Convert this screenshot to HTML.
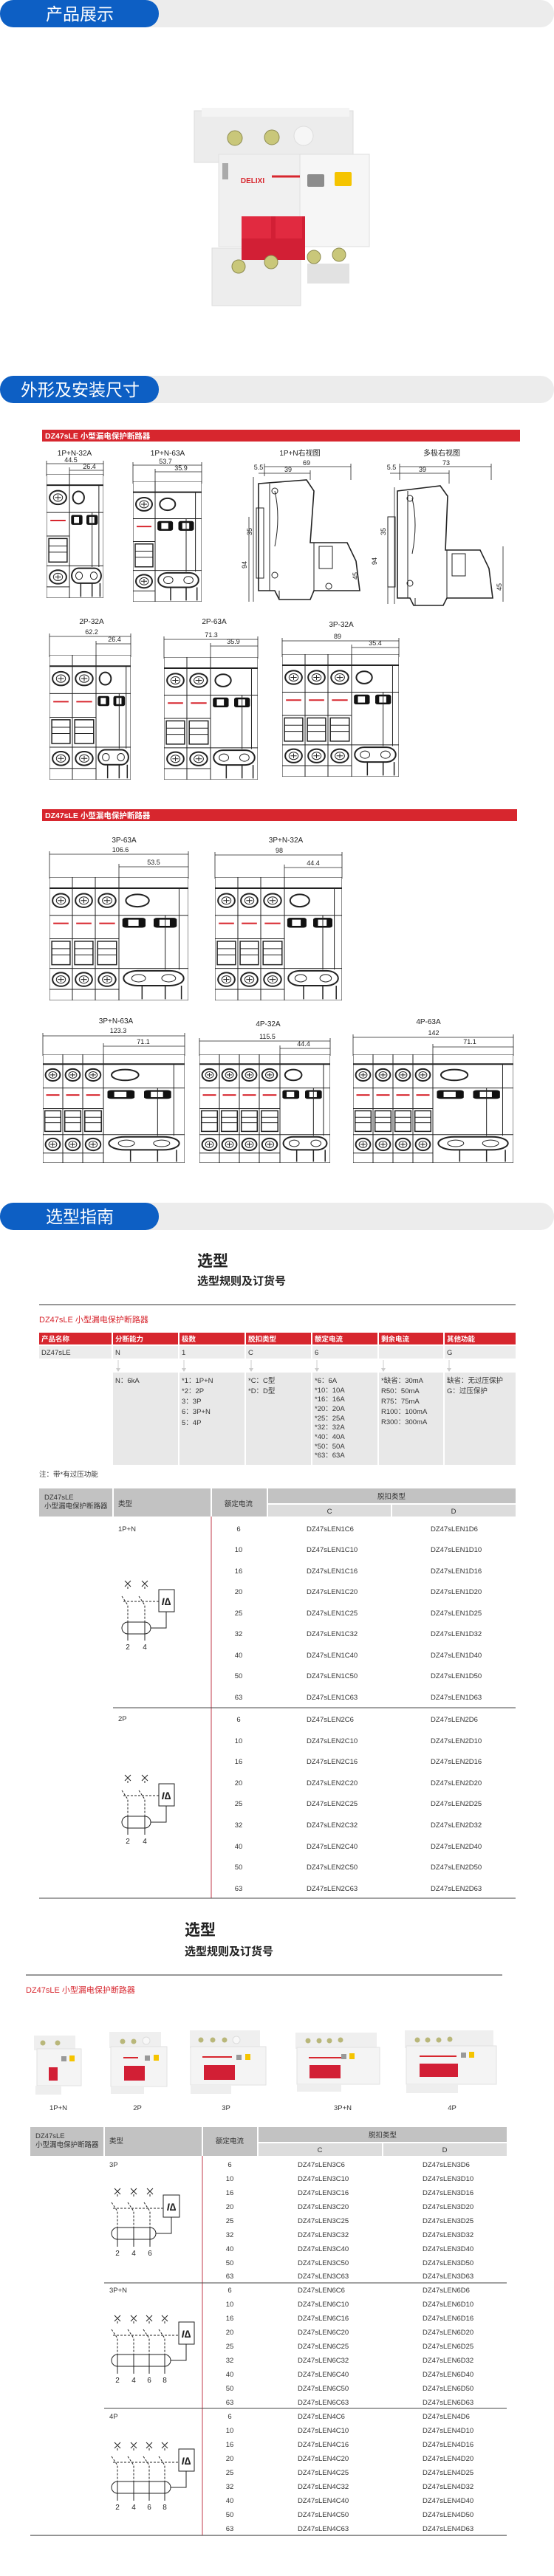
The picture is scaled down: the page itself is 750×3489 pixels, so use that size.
<!DOCTYPE html>
<html><head><meta charset="utf-8">
<style>
html,body{margin:0;padding:0;background:#fff;}
svg{display:block;}
text{font-family:"Liberation Sans","Noto Sans CJK SC",sans-serif;}
.ln *{vector-effect:non-scaling-stroke;}
.dim{stroke:#222;stroke-width:0.8;fill:none;}
.dt{font-size:9px;fill:#222;text-anchor:middle;font-family:"Liberation Sans Narrow","Liberation Sans",sans-serif;}
.lb{font-size:10px;fill:#222;text-anchor:middle;}
.td{font-size:9.5px;fill:#333;}
.tc{font-size:9.5px;fill:#333;text-anchor:middle;}
.op{font-size:9.5px;fill:#333;}
.sch{fill:none;stroke:#222;stroke-width:1;}
.dsh{fill:none;stroke:#222;stroke-width:1;stroke-dasharray:3 2;}
</style></head>
<body>
<svg width="750" height="3489" viewBox="0 0 750 3489" xmlns="http://www.w3.org/2000/svg">
<defs>
<symbol id="pole" viewBox="0 0 30 200" preserveAspectRatio="none" class="ln">
 <rect x="0" y="0" width="30" height="200" fill="#fff" stroke="#222" stroke-width="1"/>
 <line x1="0" y1="18" x2="30" y2="18" stroke="#222" stroke-width="2"/>
 <circle cx="15" cy="38" r="11" fill="none" stroke="#222" stroke-width="2"/>
 <circle cx="15" cy="38" r="6" fill="none" stroke="#222" stroke-width="1"/>
 <path d="M11 38H19M15 34V42" stroke="#222" stroke-width="1"/>
 <line x1="0" y1="62" x2="30" y2="62" stroke="#222" stroke-width="1"/>
 <line x1="5" y1="75" x2="25" y2="75" stroke="#d7262e" stroke-width="2"/>
 <line x1="0" y1="100" x2="30" y2="100" stroke="#222" stroke-width="1"/>
 <rect x="3" y="104" width="24" height="38" fill="none" stroke="#222" stroke-width="1.5"/>
 <path d="M3 116H27M3 126H27" stroke="#222" stroke-width="1"/>
 <line x1="0" y1="148" x2="30" y2="148" stroke="#222" stroke-width="1"/>
 <circle cx="15" cy="166" r="11" fill="none" stroke="#222" stroke-width="2"/>
 <circle cx="15" cy="166" r="6" fill="none" stroke="#222" stroke-width="1"/>
 <path d="M11 166H19M15 162V170" stroke="#222" stroke-width="1"/>
 <line x1="0" y1="182" x2="30" y2="182" stroke="#222" stroke-width="1"/>
</symbol>
<symbol id="rcd" viewBox="0 0 60 200" preserveAspectRatio="none" class="ln">
 <rect x="0" y="0" width="60" height="200" fill="#fff" stroke="#222" stroke-width="1"/>
 <line x1="0" y1="18" x2="60" y2="18" stroke="#222" stroke-width="2"/>
 <circle cx="16" cy="38" r="10" fill="none" stroke="#222" stroke-width="2"/>
 <line x1="0" y1="62" x2="60" y2="62" stroke="#222" stroke-width="1"/>
 <rect x="3" y="66" width="20" height="16" rx="3" fill="#111"/>
 <rect x="8" y="69" width="9" height="10" fill="#fff"/>
 <rect x="30" y="66" width="20" height="16" rx="3" fill="#111"/>
 <rect x="35" y="69" width="9" height="10" fill="#fff"/>
 <path d="M40 62V150M52 18V150" stroke="#222" stroke-width="1"/>
 <line x1="0" y1="148" x2="60" y2="148" stroke="#222" stroke-width="1"/>
 <rect x="4" y="152" width="52" height="24" rx="12" fill="none" stroke="#222" stroke-width="2"/>
 <circle cx="17" cy="164" r="6" fill="none" stroke="#222"/>
 <circle cx="43" cy="164" r="6" fill="none" stroke="#222"/>
 <path d="M20 176V198M40 176V198M54 176V198" stroke="#222" stroke-width="1.5"/>
</symbol>
</defs>

<!-- Header 1 -->
<rect x="0" y="0" width="750" height="37" rx="18" fill="#ececec"/>
<rect x="0" y="0" width="215" height="37" rx="18" fill="#0d5fc4"/>
<text x="62" y="27" font-size="23" fill="#fff">产品展示</text>

<!-- Main product photo -->
<g transform="translate(263,146)">
 <rect x="0" y="4" width="215" height="70" fill="#ececec" stroke="#ddd"/>
 <rect x="10" y="0" width="200" height="12" fill="#f4f4f4"/>
 <circle cx="55" cy="41" r="10" fill="#c9c77a" stroke="#8d8b50"/>
 <circle cx="105" cy="40" r="10" fill="#c9c77a" stroke="#8d8b50"/>
 <circle cx="148" cy="38" r="13" fill="#f6f6f6" stroke="#ddd"/>
 <rect x="24" y="190" width="120" height="78" fill="#ededed" stroke="#ddd"/>
 <rect x="33" y="63" width="204" height="125" fill="#f6f6f6" stroke="#ddd"/>
 <rect x="33" y="63" width="110" height="125" fill="#f0f0f0" stroke="#e0e0e0"/>
 <rect x="38" y="75" width="8" height="22" fill="#aaa"/>
 <line x1="105" y1="93" x2="143" y2="93" stroke="#d7262e" stroke-width="3"/>
 <text x="79" y="102" font-size="10" font-weight="bold" fill="#d7262e" text-anchor="middle">DELIXI</text>
 <rect x="153" y="90" width="23" height="17" rx="2" fill="#8c8c8c"/>
 <rect x="190" y="87" width="23" height="19" rx="2" fill="#f5c400"/>
 <rect x="64" y="147" width="86" height="59" fill="#d21f35"/>
 <rect x="64" y="147" width="40" height="30" fill="#e12a40"/>
 <rect x="110" y="147" width="36" height="30" fill="#e12a40"/>
 <rect x="153" y="211" width="57" height="27" fill="#e2e2e2"/>
 <circle cx="60" cy="215" r="9" fill="#c9c77a" stroke="#8d8b50"/>
 <circle cx="104" cy="209" r="9" fill="#c9c77a" stroke="#8d8b50"/>
 <circle cx="162" cy="202" r="9" fill="#c9c77a" stroke="#8d8b50"/>
 <circle cx="196" cy="199" r="9" fill="#c9c77a" stroke="#8d8b50"/>
</g>

<!-- Header 2 -->
<rect x="0" y="509" width="750" height="37" rx="18" fill="#ececec"/>
<rect x="0" y="509" width="215" height="37" rx="18" fill="#0d5fc4"/>
<text x="28" y="536" font-size="23" fill="#fff">外形及安装尺寸</text>

<!-- Red bar 1 -->
<rect x="57" y="582" width="647" height="16" fill="#d7262e"/>
<text x="61" y="594" font-size="10.5" font-weight="bold" fill="#fff">DZ47sLE 小型漏电保护断路器</text>

<!-- Row 1 drawings -->
<text class="lb" x="101" y="617">1P+N-32A</text>
<path class="dim" d="M63 628H140M63 624V645M140 624V645M94 637H140M94 633V645"/>
<text class="dt" x="96" y="626">44.5</text><text class="dt" x="121" y="635">26.4</text>
<use href="#pole" x="63" y="642" width="31" height="168"/>
<use href="#rcd" x="94" y="642" width="46" height="168"/>

<text class="lb" x="227" y="617">1P+N-63A</text>
<path class="dim" d="M180 630H273M180 626V655M273 626V655M210 639H273M210 635V655"/>
<text class="dt" x="224" y="628">53.7</text><text class="dt" x="245" y="637">35.9</text>
<use href="#pole" x="180" y="652" width="30" height="163"/>
<use href="#rcd" x="210" y="652" width="63" height="163"/>

<text class="lb" x="406" y="617">1P+N右视图</text>
<path class="dim" d="M358 632H475M358 628V645M475 628V650M358 641H420M420 637V650M350 641H358M343 646V815M337 700V815"/>
<text class="dt" x="415" y="630">69</text><text class="dt" x="390" y="639">39</text><text class="dt" x="350" y="636">5.5</text>
<text class="dt" x="334" y="765" transform="rotate(-90 334 765)">94</text>
<text class="dt" x="341" y="720" transform="rotate(-90 341 720)">35</text>
<text class="dt" x="484" y="780" transform="rotate(-90 484 780)">45</text>
<path fill="none" stroke="#222" stroke-width="1.6" d="M350 655L415 650L425 665L420 735L470 735L482 760L487 800L425 800L420 812L378 812L372 800L350 800Z"/>
<path fill="none" stroke="#222" stroke-width="1" d="M365 655V800M372 665Q380 700 372 740M425 735V800M432 740H450V770H432ZM378 800V812M445 790A4 4 0 1 0 445.1 790"/>
<rect x="347" y="688" width="10" height="95" fill="none" stroke="#222"/>
<circle cx="372" cy="665" r="4" fill="none" stroke="#222"/>
<circle cx="372" cy="779" r="4" fill="none" stroke="#222"/>

<text class="lb" x="598" y="617">多极右视图</text>
<path class="dim" d="M541 632H665M541 628V650M665 628V650M528 641H608M608 637V655M534 660V818M525 700V818M681 740V815"/>
<text class="dt" x="604" y="630">73</text><text class="dt" x="572" y="639">39</text><text class="dt" x="530" y="636">5.5</text>
<text class="dt" x="510" y="760" transform="rotate(-90 510 760)">94</text>
<text class="dt" x="522" y="720" transform="rotate(-90 522 720)">35</text>
<text class="dt" x="679" y="795" transform="rotate(-90 679 795)">45</text>
<path fill="none" stroke="#222" stroke-width="1.6" d="M538 665L596 658L606 672L603 745L650 745L662 770L667 810L605 810L600 820L560 820L555 810L538 810Z"/>
<path fill="none" stroke="#222" stroke-width="1" d="M552 665V810M558 675Q566 710 558 750M605 745V810M612 750H630V780H612ZM562 810V820"/>
<rect x="525" y="700" width="10" height="95" fill="none" stroke="#222"/>
<circle cx="555" cy="675" r="4" fill="none" stroke="#222"/>
<circle cx="555" cy="790" r="4" fill="none" stroke="#222"/>

<!-- Row 2 -->
<text class="lb" x="124" y="845">2P-32A</text>
<path class="dim" d="M67 862H177M67 858V890M177 858V890M130 872H177M130 868V890"/>
<text class="dt" x="124" y="859">62.2</text><text class="dt" x="155" y="869">26.4</text>
<use href="#pole" x="67" y="887" width="31" height="169"/>
<use href="#pole" x="98" y="887" width="32" height="169"/>
<use href="#rcd" x="130" y="887" width="47" height="169"/>

<text class="lb" x="290" y="845">2P-63A</text>
<path class="dim" d="M222 866H349M222 862V892M349 862V892M285 875H349M285 871V892"/>
<text class="dt" x="286" y="863">71.3</text><text class="dt" x="316" y="872">35.9</text>
<use href="#pole" x="222" y="890" width="31" height="166"/>
<use href="#pole" x="253" y="890" width="32" height="166"/>
<use href="#rcd" x="285" y="890" width="64" height="166"/>

<text class="lb" x="462" y="849">3P-32A</text>
<path class="dim" d="M382 868H540M382 864V890M540 864V890M476 877H540M476 873V890"/>
<text class="dt" x="457" y="865">89</text><text class="dt" x="508" y="874">35.4</text>
<use href="#pole" x="382" y="886" width="31" height="166"/>
<use href="#pole" x="413" y="886" width="31" height="166"/>
<use href="#pole" x="444" y="886" width="32" height="166"/>
<use href="#rcd" x="476" y="886" width="64" height="166"/>

<!-- Red bar 2 -->
<rect x="57" y="1096" width="643" height="16" fill="#d7262e"/>
<text x="61" y="1108" font-size="10.5" font-weight="bold" fill="#fff">DZ47sLE 小型漏电保护断路器</text>

<!-- Row 3 -->
<text class="lb" x="168" y="1141">3P-63A</text>
<path class="dim" d="M67 1157H255M67 1153V1190M255 1153V1190M161 1174H255M161 1170V1190"/>
<text class="dt" x="163" y="1154">106.6</text><text class="dt" x="208" y="1171">53.5</text>
<use href="#pole" x="67" y="1188" width="31" height="167"/>
<use href="#pole" x="98" y="1188" width="31" height="167"/>
<use href="#pole" x="129" y="1188" width="32" height="167"/>
<use href="#rcd" x="161" y="1188" width="94" height="167"/>

<text class="lb" x="387" y="1141">3P+N-32A</text>
<path class="dim" d="M291 1158H463M291 1154V1190M463 1154V1190M385 1175H463M385 1171V1190"/>
<text class="dt" x="378" y="1155">98</text><text class="dt" x="424" y="1172">44.4</text>
<use href="#pole" x="291" y="1188" width="31" height="167"/>
<use href="#pole" x="322" y="1188" width="31" height="167"/>
<use href="#pole" x="353" y="1188" width="32" height="167"/>
<use href="#rcd" x="385" y="1188" width="78" height="167"/>

<!-- Row 4 -->
<text class="lb" x="157" y="1386">3P+N-63A</text>
<path class="dim" d="M58 1403H250M58 1399V1430M250 1399V1430M140 1417H250M140 1413V1430"/>
<text class="dt" x="160" y="1399">123.3</text><text class="dt" x="194" y="1414">71.1</text>
<use href="#pole" x="58" y="1428" width="27" height="147"/>
<use href="#pole" x="85" y="1428" width="27" height="147"/>
<use href="#pole" x="112" y="1428" width="28" height="147"/>
<use href="#rcd" x="140" y="1428" width="110" height="147"/>

<text class="lb" x="363" y="1390">4P-32A</text>
<path class="dim" d="M270 1410H447M270 1406V1430M447 1406V1430M379 1420H447M379 1416V1430"/>
<text class="dt" x="362" y="1407">115.5</text><text class="dt" x="411" y="1417">44.4</text>
<use href="#pole" x="270" y="1428" width="27" height="147"/>
<use href="#pole" x="297" y="1428" width="27" height="147"/>
<use href="#pole" x="324" y="1428" width="27" height="147"/>
<use href="#pole" x="351" y="1428" width="28" height="147"/>
<use href="#rcd" x="379" y="1428" width="68" height="147"/>

<text class="lb" x="580" y="1387">4P-63A</text>
<path class="dim" d="M478 1405H695M478 1401V1430M695 1401V1430M586 1418H695M586 1414V1430"/>
<text class="dt" x="587" y="1402">142</text><text class="dt" x="636" y="1414">71.1</text>
<use href="#pole" x="478" y="1428" width="27" height="147"/>
<use href="#pole" x="505" y="1428" width="27" height="147"/>
<use href="#pole" x="532" y="1428" width="27" height="147"/>
<use href="#pole" x="559" y="1428" width="27" height="147"/>
<use href="#rcd" x="586" y="1428" width="109" height="147"/>

<!-- Header 3 -->
<rect x="0" y="1629" width="750" height="37" rx="18" fill="#ececec"/>
<rect x="0" y="1629" width="215" height="37" rx="18" fill="#0d5fc4"/>
<text x="62" y="1656" font-size="23" fill="#fff">选型指南</text>

<text x="267" y="1715" font-size="21" font-weight="bold" fill="#222">选型</text>
<text x="267" y="1740" font-size="15" font-weight="bold" fill="#222">选型规则及订货号</text>
<line x1="53" y1="1767" x2="698" y2="1767" stroke="#777" stroke-width="1.5"/>
<text x="53" y="1791" font-size="11" fill="#d7262e">DZ47sLE 小型漏电保护断路器</text>

<!-- Rule table -->
<g>
 <rect x="53" y="1805" width="98" height="16" fill="#d7262e"/>
 <rect x="153" y="1805" width="88" height="16" fill="#d7262e"/>
 <rect x="243" y="1805" width="88" height="16" fill="#d7262e"/>
 <rect x="333" y="1805" width="88" height="16" fill="#d7262e"/>
 <rect x="423" y="1805" width="88" height="16" fill="#d7262e"/>
 <rect x="513" y="1805" width="87" height="16" fill="#d7262e"/>
 <rect x="602" y="1805" width="96" height="16" fill="#d7262e"/>
 <g font-size="9.5" fill="#fff" font-weight="bold">
 <text x="56" y="1817">产品名称</text><text x="156" y="1817">分断能力</text><text x="246" y="1817">极数</text><text x="336" y="1817">脱扣类型</text><text x="426" y="1817">额定电流</text><text x="516" y="1817">剩余电流</text><text x="605" y="1817">其他功能</text>
 </g>
 <g fill="#ececec">
 <rect x="53" y="1823" width="98" height="17"/><rect x="153" y="1823" width="88" height="17"/><rect x="243" y="1823" width="88" height="17"/><rect x="333" y="1823" width="88" height="17"/><rect x="423" y="1823" width="88" height="17"/><rect x="513" y="1823" width="87" height="17"/><rect x="602" y="1823" width="96" height="17"/>
 </g>
 <g class="op"><text x="56" y="1835">DZ47sLE</text><text x="156" y="1835">N</text><text x="246" y="1835">1</text><text x="336" y="1835">C</text><text x="426" y="1835">6</text><text x="605" y="1835">G</text></g>
 <g stroke="#ccc" stroke-width="1" fill="#ccc">
  <path d="M160 1842V1855M249 1842V1855M340 1842V1855M429 1842V1855M519 1842V1855M608 1842V1855"/>
 </g>
 <g fill="#ccc"><path d="M157 1853L160 1858L163 1853ZM246 1853L249 1858L252 1853ZM337 1853L340 1858L343 1853ZM426 1853L429 1858L432 1853ZM516 1853L519 1858L522 1853ZM605 1853L608 1858L611 1853Z"/></g>
 <g fill="#e8e8e8">
 <rect x="153" y="1859" width="88" height="125"/><rect x="243" y="1859" width="88" height="125"/><rect x="333" y="1859" width="88" height="125"/><rect x="423" y="1859" width="88" height="125"/><rect x="513" y="1859" width="87" height="125"/><rect x="602" y="1859" width="96" height="125"/>
 </g>
 <g class="op">
  <text x="156" y="1873">N：6kA</text>
  <text x="246" y="1873">*1：1P+N</text><text x="246" y="1887">*2：2P</text><text x="246" y="1901">3：3P</text><text x="246" y="1915">6：3P+N</text><text x="246" y="1930">5：4P</text>
  <text x="336" y="1873">*C：C型</text><text x="336" y="1887">*D：D型</text>
  <text x="426" y="1873">*6：6A</text><text x="426" y="1886">*10：10A</text><text x="426" y="1898">*16：16A</text><text x="426" y="1911">*20：20A</text><text x="426" y="1924">*25：25A</text><text x="426" y="1936">*32：32A</text><text x="426" y="1949">*40：40A</text><text x="426" y="1962">*50：50A</text><text x="426" y="1974">*63：63A</text>
  <text x="516" y="1873">*缺省：30mA</text><text x="516" y="1887">R50：50mA</text><text x="516" y="1901">R75：75mA</text><text x="516" y="1915">R100：100mA</text><text x="516" y="1929">R300：300mA</text>
  <text x="605" y="1873">缺省：无过压保护</text><text x="605" y="1887">G：过压保护</text>
 </g>
 <text x="53" y="2000" font-size="9.5" fill="#333">注：带*有过压功能</text>
</g>

<!-- Table 1 -->
<rect x="53" y="2016" width="99" height="38" fill="#c2c2c2"/>
<rect x="154" y="2016" width="131" height="38" fill="#c2c2c2"/>
<rect x="287" y="2016" width="74" height="38" fill="#c2c2c2"/>
<rect x="363" y="2016" width="335" height="20" fill="#c2c2c2"/>
<rect x="363" y="2038" width="166" height="16" fill="#dcdcdc"/>
<rect x="531" y="2038" width="167" height="16" fill="#dcdcdc"/>
<text class="td" x="60" y="2031">DZ47sLE</text><text class="td" x="60" y="2043">小型漏电保护断路器</text>
<text class="td" x="160" y="2040">类型</text><text class="tc" x="323" y="2040">额定电流</text>
<text class="tc" x="530" y="2030">脱扣类型</text><text class="tc" x="446" y="2050">C</text><text class="tc" x="614" y="2050">D</text>
<line x1="286" y1="2054" x2="286" y2="2571" stroke="#c0394a" stroke-width="1"/>
<line x1="153" y1="2313" x2="698" y2="2313" stroke="#444" stroke-width="1"/>
<line x1="53" y1="2571" x2="698" y2="2571" stroke="#444" stroke-width="1"/>
<text class="td" x="160" y="2074">1P+N</text><text class="td" x="160" y="2331">2P</text>
<g>
<text class="tc" x="323" y="2074">6</text><text class="td" x="415" y="2074">DZ47sLEN1C6</text><text class="td" x="583" y="2074">DZ47sLEN1D6</text>
<text class="tc" x="323" y="2102">10</text><text class="td" x="415" y="2102">DZ47sLEN1C10</text><text class="td" x="583" y="2102">DZ47sLEN1D10</text>
<text class="tc" x="323" y="2131">16</text><text class="td" x="415" y="2131">DZ47sLEN1C16</text><text class="td" x="583" y="2131">DZ47sLEN1D16</text>
<text class="tc" x="323" y="2159">20</text><text class="td" x="415" y="2159">DZ47sLEN1C20</text><text class="td" x="583" y="2159">DZ47sLEN1D20</text>
<text class="tc" x="323" y="2188">25</text><text class="td" x="415" y="2188">DZ47sLEN1C25</text><text class="td" x="583" y="2188">DZ47sLEN1D25</text>
<text class="tc" x="323" y="2216">32</text><text class="td" x="415" y="2216">DZ47sLEN1C32</text><text class="td" x="583" y="2216">DZ47sLEN1D32</text>
<text class="tc" x="323" y="2245">40</text><text class="td" x="415" y="2245">DZ47sLEN1C40</text><text class="td" x="583" y="2245">DZ47sLEN1D40</text>
<text class="tc" x="323" y="2273">50</text><text class="td" x="415" y="2273">DZ47sLEN1C50</text><text class="td" x="583" y="2273">DZ47sLEN1D50</text>
<text class="tc" x="323" y="2302">63</text><text class="td" x="415" y="2302">DZ47sLEN1C63</text><text class="td" x="583" y="2302">DZ47sLEN1D63</text>
<text class="tc" x="323" y="2332">6</text><text class="td" x="415" y="2332">DZ47sLEN2C6</text><text class="td" x="583" y="2332">DZ47sLEN2D6</text>
<text class="tc" x="323" y="2361">10</text><text class="td" x="415" y="2361">DZ47sLEN2C10</text><text class="td" x="583" y="2361">DZ47sLEN2D10</text>
<text class="tc" x="323" y="2389">16</text><text class="td" x="415" y="2389">DZ47sLEN2C16</text><text class="td" x="583" y="2389">DZ47sLEN2D16</text>
<text class="tc" x="323" y="2418">20</text><text class="td" x="415" y="2418">DZ47sLEN2C20</text><text class="td" x="583" y="2418">DZ47sLEN2D20</text>
<text class="tc" x="323" y="2446">25</text><text class="td" x="415" y="2446">DZ47sLEN2C25</text><text class="td" x="583" y="2446">DZ47sLEN2D25</text>
<text class="tc" x="323" y="2475">32</text><text class="td" x="415" y="2475">DZ47sLEN2C32</text><text class="td" x="583" y="2475">DZ47sLEN2D32</text>
<text class="tc" x="323" y="2504">40</text><text class="td" x="415" y="2504">DZ47sLEN2C40</text><text class="td" x="583" y="2504">DZ47sLEN2D40</text>
<text class="tc" x="323" y="2532">50</text><text class="td" x="415" y="2532">DZ47sLEN2C50</text><text class="td" x="583" y="2532">DZ47sLEN2D50</text>
<text class="tc" x="323" y="2561">63</text><text class="td" x="415" y="2561">DZ47sLEN2C63</text><text class="td" x="583" y="2561">DZ47sLEN2D63</text>
</g>

<!-- schematic 2 poles (1P+N) -->
<g transform="translate(173,2140)">
 <path class="sch" d="M-4 1L4 9M4 1L-4 9M19 1L27 9M27 1L19 9"/>
 <path class="dsh" d="M0 9V14M23 9V14M-8 22L0 34V57M15 22L23 34V57M-6 29H42"/>
 <rect class="sch" x="42" y="13" width="21" height="30"/>
 <text x="52" y="34" font-size="14" font-style="italic" font-weight="bold" text-anchor="middle" fill="#222">I∆</text>
 <path class="sch" d="M52 43V65H31M0 57V82M23 57V82"/>
 <rect class="sch" x="-8" y="57" width="39" height="16" rx="8"/>
 <text x="0" y="94" font-size="10" text-anchor="middle" fill="#222">2</text><text x="23" y="94" font-size="10" text-anchor="middle" fill="#222">4</text>
</g>
<g transform="translate(173,2403)">
 <path class="sch" d="M-4 1L4 9M4 1L-4 9M19 1L27 9M27 1L19 9"/>
 <path class="dsh" d="M0 9V14M23 9V14M-8 22L0 34V57M15 22L23 34V57M-6 29H42"/>
 <rect class="sch" x="42" y="13" width="21" height="30"/>
 <text x="52" y="34" font-size="14" font-style="italic" font-weight="bold" text-anchor="middle" fill="#222">I∆</text>
 <path class="sch" d="M52 43V65H31M0 57V82M23 57V82"/>
 <rect class="sch" x="-8" y="57" width="39" height="16" rx="8"/>
 <text x="0" y="94" font-size="10" text-anchor="middle" fill="#222">2</text><text x="23" y="94" font-size="10" text-anchor="middle" fill="#222">4</text>
</g>

<!-- Second 选型 -->
<text x="250" y="2621" font-size="21" font-weight="bold" fill="#222">选型</text>
<text x="250" y="2648" font-size="15" font-weight="bold" fill="#222">选型规则及订货号</text>
<line x1="35" y1="2675" x2="680" y2="2675" stroke="#777" stroke-width="1.5"/>
<text x="35" y="2699" font-size="11" fill="#d7262e">DZ47sLE 小型漏电保护断路器</text>

<!-- small photos -->
<g>
 <!-- 1P+N -->
 <rect x="46" y="2757" width="56" height="20" fill="#efefef"/>
 <circle cx="58" cy="2767" r="3.5" fill="#b9b77a"/><circle cx="78" cy="2767" r="3.5" fill="#b9b77a"/>
 <rect x="50" y="2775" width="60" height="50" fill="#f4f4f4" stroke="#e2e2e2"/>
 <rect x="83" y="2785" width="7" height="7" fill="#999"/><rect x="94" y="2784" width="7" height="8" fill="#f5c400"/>
 <rect x="66" y="2800" width="12" height="18" fill="#d21f35"/>
 <rect x="48" y="2825" width="35" height="12" fill="#eee"/>
 <!-- 2P -->
 <rect x="148" y="2752" width="70" height="22" fill="#efefef"/>
 <circle cx="166" cy="2765" r="3.5" fill="#b9b77a"/><circle cx="181" cy="2765" r="3.5" fill="#b9b77a"/><circle cx="198" cy="2764" r="5" fill="#f8f8f8" stroke="#ddd"/>
 <rect x="150" y="2772" width="76" height="54" fill="#f4f4f4" stroke="#e2e2e2"/>
 <rect x="167" y="2786" width="20" height="2" fill="#d7262e"/>
 <rect x="196" y="2784" width="7" height="7" fill="#999"/><rect x="208" y="2783" width="7" height="8" fill="#f5c400"/>
 <rect x="168" y="2798" width="28" height="20" fill="#d21f35"/>
 <rect x="150" y="2826" width="45" height="10" fill="#eee"/>
 <!-- 3P -->
 <rect x="257" y="2750" width="95" height="24" fill="#efefef"/>
 <circle cx="272" cy="2763" r="3.5" fill="#b9b77a"/><circle cx="288" cy="2763" r="3.5" fill="#b9b77a"/><circle cx="304" cy="2763" r="3.5" fill="#b9b77a"/><circle cx="320" cy="2763" r="5" fill="#f8f8f8" stroke="#ddd"/>
 <rect x="258" y="2772" width="102" height="52" fill="#f4f4f4" stroke="#e2e2e2"/>
 <rect x="274" y="2785" width="40" height="2" fill="#d7262e"/>
 <rect x="320" y="2783" width="7" height="7" fill="#999"/><rect x="332" y="2782" width="7" height="8" fill="#f5c400"/>
 <rect x="276" y="2797" width="42" height="20" fill="#d21f35"/>
 <rect x="258" y="2824" width="55" height="12" fill="#eee"/>
 <!-- 3P+N -->
 <rect x="400" y="2753" width="110" height="22" fill="#efefef"/>
 <circle cx="417" cy="2764" r="3.5" fill="#b9b77a"/><circle cx="432" cy="2764" r="3.5" fill="#b9b77a"/><circle cx="446" cy="2764" r="3.5" fill="#b9b77a"/><circle cx="461" cy="2763" r="3.5" fill="#b9b77a"/>
 <rect x="402" y="2773" width="112" height="50" fill="#f4f4f4" stroke="#e2e2e2"/>
 <rect x="418" y="2786" width="44" height="2" fill="#d7262e"/>
 <rect x="462" y="2782" width="7" height="7" fill="#999"/><rect x="473" y="2781" width="7" height="8" fill="#f5c400"/>
 <rect x="419" y="2797" width="42" height="18" fill="#d21f35"/>
 <rect x="402" y="2823" width="60" height="10" fill="#eee"/>
 <!-- 4P -->
 <rect x="548" y="2750" width="120" height="24" fill="#efefef"/>
 <circle cx="565" cy="2763" r="3.5" fill="#b9b77a"/><circle cx="579" cy="2763" r="3.5" fill="#b9b77a"/><circle cx="594" cy="2763" r="3.5" fill="#b9b77a"/><circle cx="609" cy="2762" r="3.5" fill="#b9b77a"/>
 <rect x="550" y="2771" width="122" height="52" fill="#f4f4f4" stroke="#e2e2e2"/>
 <rect x="568" y="2784" width="50" height="2" fill="#d7262e"/>
 <rect x="624" y="2780" width="7" height="7" fill="#999"/><rect x="635" y="2779" width="7" height="8" fill="#f5c400"/>
 <rect x="568" y="2795" width="52" height="18" fill="#d21f35"/>
 <rect x="550" y="2823" width="70" height="12" fill="#eee"/>
 <g font-size="9.5" fill="#333" text-anchor="middle">
  <text x="79" y="2858">1P+N</text><text x="186" y="2858">2P</text><text x="306" y="2858">3P</text><text x="464" y="2858">3P+N</text><text x="612" y="2858">4P</text>
 </g>
</g>

<!-- Table 2 -->
<rect x="41" y="2881" width="99" height="39" fill="#c2c2c2"/>
<rect x="142" y="2881" width="131" height="39" fill="#c2c2c2"/>
<rect x="275" y="2881" width="73" height="39" fill="#c2c2c2"/>
<rect x="350" y="2881" width="336" height="20" fill="#c2c2c2"/>
<rect x="350" y="2903" width="167" height="17" fill="#dcdcdc"/>
<rect x="519" y="2903" width="167" height="17" fill="#dcdcdc"/>
<text class="td" x="48" y="2896">DZ47sLE</text><text class="td" x="48" y="2908">小型漏电保护断路器</text>
<text class="td" x="148" y="2903">类型</text><text class="tc" x="311" y="2903">额定电流</text>
<text class="tc" x="518" y="2895">脱扣类型</text><text class="tc" x="433" y="2915">C</text><text class="tc" x="602" y="2915">D</text>
<line x1="274" y1="2920" x2="274" y2="3434" stroke="#c0394a" stroke-width="1"/>
<line x1="141" y1="3092" x2="686" y2="3092" stroke="#444" stroke-width="1"/>
<line x1="141" y1="3262" x2="686" y2="3262" stroke="#444" stroke-width="1"/>
<line x1="41" y1="3434" x2="686" y2="3434" stroke="#555" stroke-width="1.2"/>
<text class="td" x="148" y="2935">3P</text><text class="td" x="148" y="3105">3P+N</text><text class="td" x="148" y="3276">4P</text>
<g>
<text class="tc" x="311" y="2935">6</text><text class="td" x="403" y="2935">DZ47sLEN3C6</text><text class="td" x="572" y="2935">DZ47sLEN3D6</text>
<text class="tc" x="311" y="2954">10</text><text class="td" x="403" y="2954">DZ47sLEN3C10</text><text class="td" x="572" y="2954">DZ47sLEN3D10</text>
<text class="tc" x="311" y="2973">16</text><text class="td" x="403" y="2973">DZ47sLEN3C16</text><text class="td" x="572" y="2973">DZ47sLEN3D16</text>
<text class="tc" x="311" y="2992">20</text><text class="td" x="403" y="2992">DZ47sLEN3C20</text><text class="td" x="572" y="2992">DZ47sLEN3D20</text>
<text class="tc" x="311" y="3011">25</text><text class="td" x="403" y="3011">DZ47sLEN3C25</text><text class="td" x="572" y="3011">DZ47sLEN3D25</text>
<text class="tc" x="311" y="3030">32</text><text class="td" x="403" y="3030">DZ47sLEN3C32</text><text class="td" x="572" y="3030">DZ47sLEN3D32</text>
<text class="tc" x="311" y="3049">40</text><text class="td" x="403" y="3049">DZ47sLEN3C40</text><text class="td" x="572" y="3049">DZ47sLEN3D40</text>
<text class="tc" x="311" y="3068">50</text><text class="td" x="403" y="3068">DZ47sLEN3C50</text><text class="td" x="572" y="3068">DZ47sLEN3D50</text>
<text class="tc" x="311" y="3086">63</text><text class="td" x="403" y="3086">DZ47sLEN3C63</text><text class="td" x="572" y="3086">DZ47sLEN3D63</text>
<text class="tc" x="311" y="3105">6</text><text class="td" x="403" y="3105">DZ47sLEN6C6</text><text class="td" x="572" y="3105">DZ47sLEN6D6</text>
<text class="tc" x="311" y="3124">10</text><text class="td" x="403" y="3124">DZ47sLEN6C10</text><text class="td" x="572" y="3124">DZ47sLEN6D10</text>
<text class="tc" x="311" y="3143">16</text><text class="td" x="403" y="3143">DZ47sLEN6C16</text><text class="td" x="572" y="3143">DZ47sLEN6D16</text>
<text class="tc" x="311" y="3162">20</text><text class="td" x="403" y="3162">DZ47sLEN6C20</text><text class="td" x="572" y="3162">DZ47sLEN6D20</text>
<text class="tc" x="311" y="3181">25</text><text class="td" x="403" y="3181">DZ47sLEN6C25</text><text class="td" x="572" y="3181">DZ47sLEN6D25</text>
<text class="tc" x="311" y="3200">32</text><text class="td" x="403" y="3200">DZ47sLEN6C32</text><text class="td" x="572" y="3200">DZ47sLEN6D32</text>
<text class="tc" x="311" y="3219">40</text><text class="td" x="403" y="3219">DZ47sLEN6C40</text><text class="td" x="572" y="3219">DZ47sLEN6D40</text>
<text class="tc" x="311" y="3238">50</text><text class="td" x="403" y="3238">DZ47sLEN6C50</text><text class="td" x="572" y="3238">DZ47sLEN6D50</text>
<text class="tc" x="311" y="3257">63</text><text class="td" x="403" y="3257">DZ47sLEN6C63</text><text class="td" x="572" y="3257">DZ47sLEN6D63</text>
<text class="tc" x="311" y="3276">6</text><text class="td" x="403" y="3276">DZ47sLEN4C6</text><text class="td" x="572" y="3276">DZ47sLEN4D6</text>
<text class="tc" x="311" y="3295">10</text><text class="td" x="403" y="3295">DZ47sLEN4C10</text><text class="td" x="572" y="3295">DZ47sLEN4D10</text>
<text class="tc" x="311" y="3314">16</text><text class="td" x="403" y="3314">DZ47sLEN4C16</text><text class="td" x="572" y="3314">DZ47sLEN4D16</text>
<text class="tc" x="311" y="3333">20</text><text class="td" x="403" y="3333">DZ47sLEN4C20</text><text class="td" x="572" y="3333">DZ47sLEN4D20</text>
<text class="tc" x="311" y="3352">25</text><text class="td" x="403" y="3352">DZ47sLEN4C25</text><text class="td" x="572" y="3352">DZ47sLEN4D25</text>
<text class="tc" x="311" y="3371">32</text><text class="td" x="403" y="3371">DZ47sLEN4C32</text><text class="td" x="572" y="3371">DZ47sLEN4D32</text>
<text class="tc" x="311" y="3390">40</text><text class="td" x="403" y="3390">DZ47sLEN4C40</text><text class="td" x="572" y="3390">DZ47sLEN4D40</text>
<text class="tc" x="311" y="3409">50</text><text class="td" x="403" y="3409">DZ47sLEN4C50</text><text class="td" x="572" y="3409">DZ47sLEN4D50</text>
<text class="tc" x="311" y="3428">63</text><text class="td" x="403" y="3428">DZ47sLEN4C63</text><text class="td" x="572" y="3428">DZ47sLEN4D63</text>
</g>

<!-- schematic 3P -->
<g transform="translate(159,2963)">
 <path class="sch" d="M-4 1L4 9M4 1L-4 9M18 1L26 9M26 1L18 9M40 1L48 9M48 1L40 9"/>
 <path class="dsh" d="M0 9V14M22 9V14M44 9V14M-8 20L0 32V54M14 20L22 32V54M36 20L44 32V54M-6 28H62"/>
 <rect class="sch" x="62" y="10" width="22" height="30"/>
 <text x="73" y="31" font-size="14" font-style="italic" font-weight="bold" text-anchor="middle" fill="#222">I∆</text>
 <path class="sch" d="M73 40V62H52M0 54V80M22 54V80M44 54V80"/>
 <rect class="sch" x="-8" y="54" width="60" height="16" rx="8"/>
 <g font-size="10" text-anchor="middle" fill="#222"><text x="0" y="92">2</text><text x="22" y="92">4</text><text x="44" y="92">6</text></g>
</g>
<!-- schematic 3P+N -->
<g transform="translate(159,3135)">
 <path class="sch" d="M-4 1L4 9M4 1L-4 9M18 1L26 9M26 1L18 9M39 1L47 9M47 1L39 9M60 1L68 9M68 1L60 9"/>
 <path class="dsh" d="M0 9V14M22 9V14M43 9V14M64 9V14M-8 20L0 32V54M14 20L22 32V54M35 20L43 32V54M56 20L64 32V54M-6 28H83"/>
 <rect class="sch" x="83" y="10" width="21" height="30"/>
 <text x="93" y="31" font-size="14" font-style="italic" font-weight="bold" text-anchor="middle" fill="#222">I∆</text>
 <path class="sch" d="M93 40V62H72M0 54V80M22 54V80M43 54V80M64 54V80"/>
 <rect class="sch" x="-8" y="54" width="80" height="16" rx="8"/>
 <g font-size="10" text-anchor="middle" fill="#222"><text x="0" y="92">2</text><text x="22" y="92">4</text><text x="43" y="92">6</text><text x="64" y="92">8</text></g>
</g>
<!-- schematic 4P -->
<g transform="translate(159,3307)">
 <path class="sch" d="M-4 1L4 9M4 1L-4 9M18 1L26 9M26 1L18 9M39 1L47 9M47 1L39 9M60 1L68 9M68 1L60 9"/>
 <path class="dsh" d="M0 9V14M22 9V14M43 9V14M64 9V14M-8 20L0 32V54M14 20L22 32V54M35 20L43 32V54M56 20L64 32V54M-6 28H83"/>
 <rect class="sch" x="83" y="10" width="21" height="30"/>
 <text x="93" y="31" font-size="14" font-style="italic" font-weight="bold" text-anchor="middle" fill="#222">I∆</text>
 <path class="sch" d="M93 40V62H72M0 54V80M22 54V80M43 54V80M64 54V80"/>
 <rect class="sch" x="-8" y="54" width="80" height="16" rx="8"/>
 <g font-size="10" text-anchor="middle" fill="#222"><text x="0" y="92">2</text><text x="22" y="92">4</text><text x="43" y="92">6</text><text x="64" y="92">8</text></g>
</g>
</svg>
</body></html>
